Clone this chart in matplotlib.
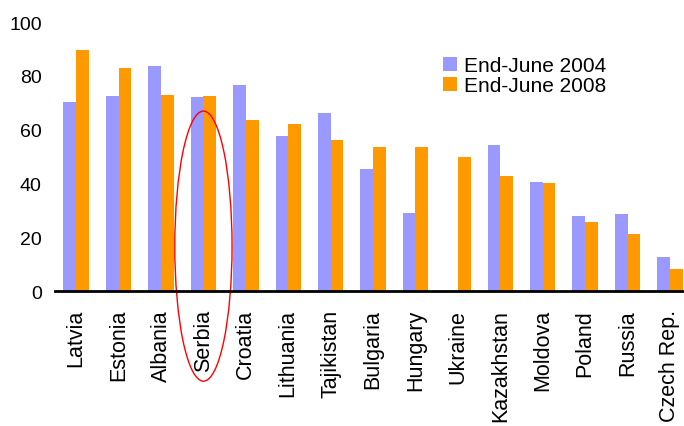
import numpy as np
import matplotlib
matplotlib.use("Agg")
import matplotlib.pyplot as plt
from matplotlib.patches import Ellipse

plt.rcParams["font.family"] = ["Liberation Sans", "DejaVu Sans"]

countries = ["Latvia", "Estonia", "Albania", "Serbia", "Croatia", "Lithuania",
             "Tajikistan", "Bulgaria", "Hungary", "Ukraine", "Kazakhstan",
             "Moldova", "Poland", "Russia", "Czech Rep."]
june_2004 = [70.4, 72.5, 83.6, 72.1, 76.6, 57.6, 66.2, 45.4, 29.1, 0.0,
             54.3, 40.6, 28.0, 28.7, 12.6]
june_2008 = [89.6, 82.9, 72.9, 72.5, 63.6, 62.1, 56.1, 53.5, 53.5, 49.8,
             42.8, 40.1, 25.7, 21.2, 8.2]
yticks = [0, 20, 40, 60, 80, 100]

BLUE = "#9999FF"
ORANGE = "#FF9900"

fig = plt.figure(figsize=(6.84, 4.27), dpi=100)
ax = fig.add_axes([0.0804, 0.316, 0.930, 0.630])

x = np.arange(len(countries))
w = 0.30
ax.bar(x - w / 2, june_2004, width=w, color=BLUE, label="End-June 2004")
ax.bar(x + w / 2, june_2008, width=w, color=ORANGE, label="End-June 2008")

ax.set_xlim(-0.5, len(countries) - 0.5)
ax.set_ylim(0, 100)
ax.set_yticks(yticks)
ax.set_xticks(x)
ax.set_xticklabels(countries, rotation=90, fontsize=15.5)
ax.tick_params(axis="y", length=0, pad=9.5, labelsize=14)
ax.tick_params(axis="x", length=0, pad=13)

for s in ["top", "right", "left"]:
    ax.spines[s].set_visible(False)
ax.spines["bottom"].set_linewidth(2)
ax.spines["bottom"].set_color("black")

# red ellipse around Serbia
ell = Ellipse((3, 16.7), width=1.35, height=100.4, fill=False,
              edgecolor="red", linewidth=1, clip_on=False)
ax.add_patch(ell)

ax.legend(loc="upper left", bbox_to_anchor=(0.648, 0.866),
          bbox_transform=fig.transFigure, frameon=False, fontsize=15,
          handlelength=0.65, handleheight=0.65, handletextpad=0.35,
          labelspacing=0.05, borderpad=0, borderaxespad=0)

fig.savefig("out.png", dpi=100)
